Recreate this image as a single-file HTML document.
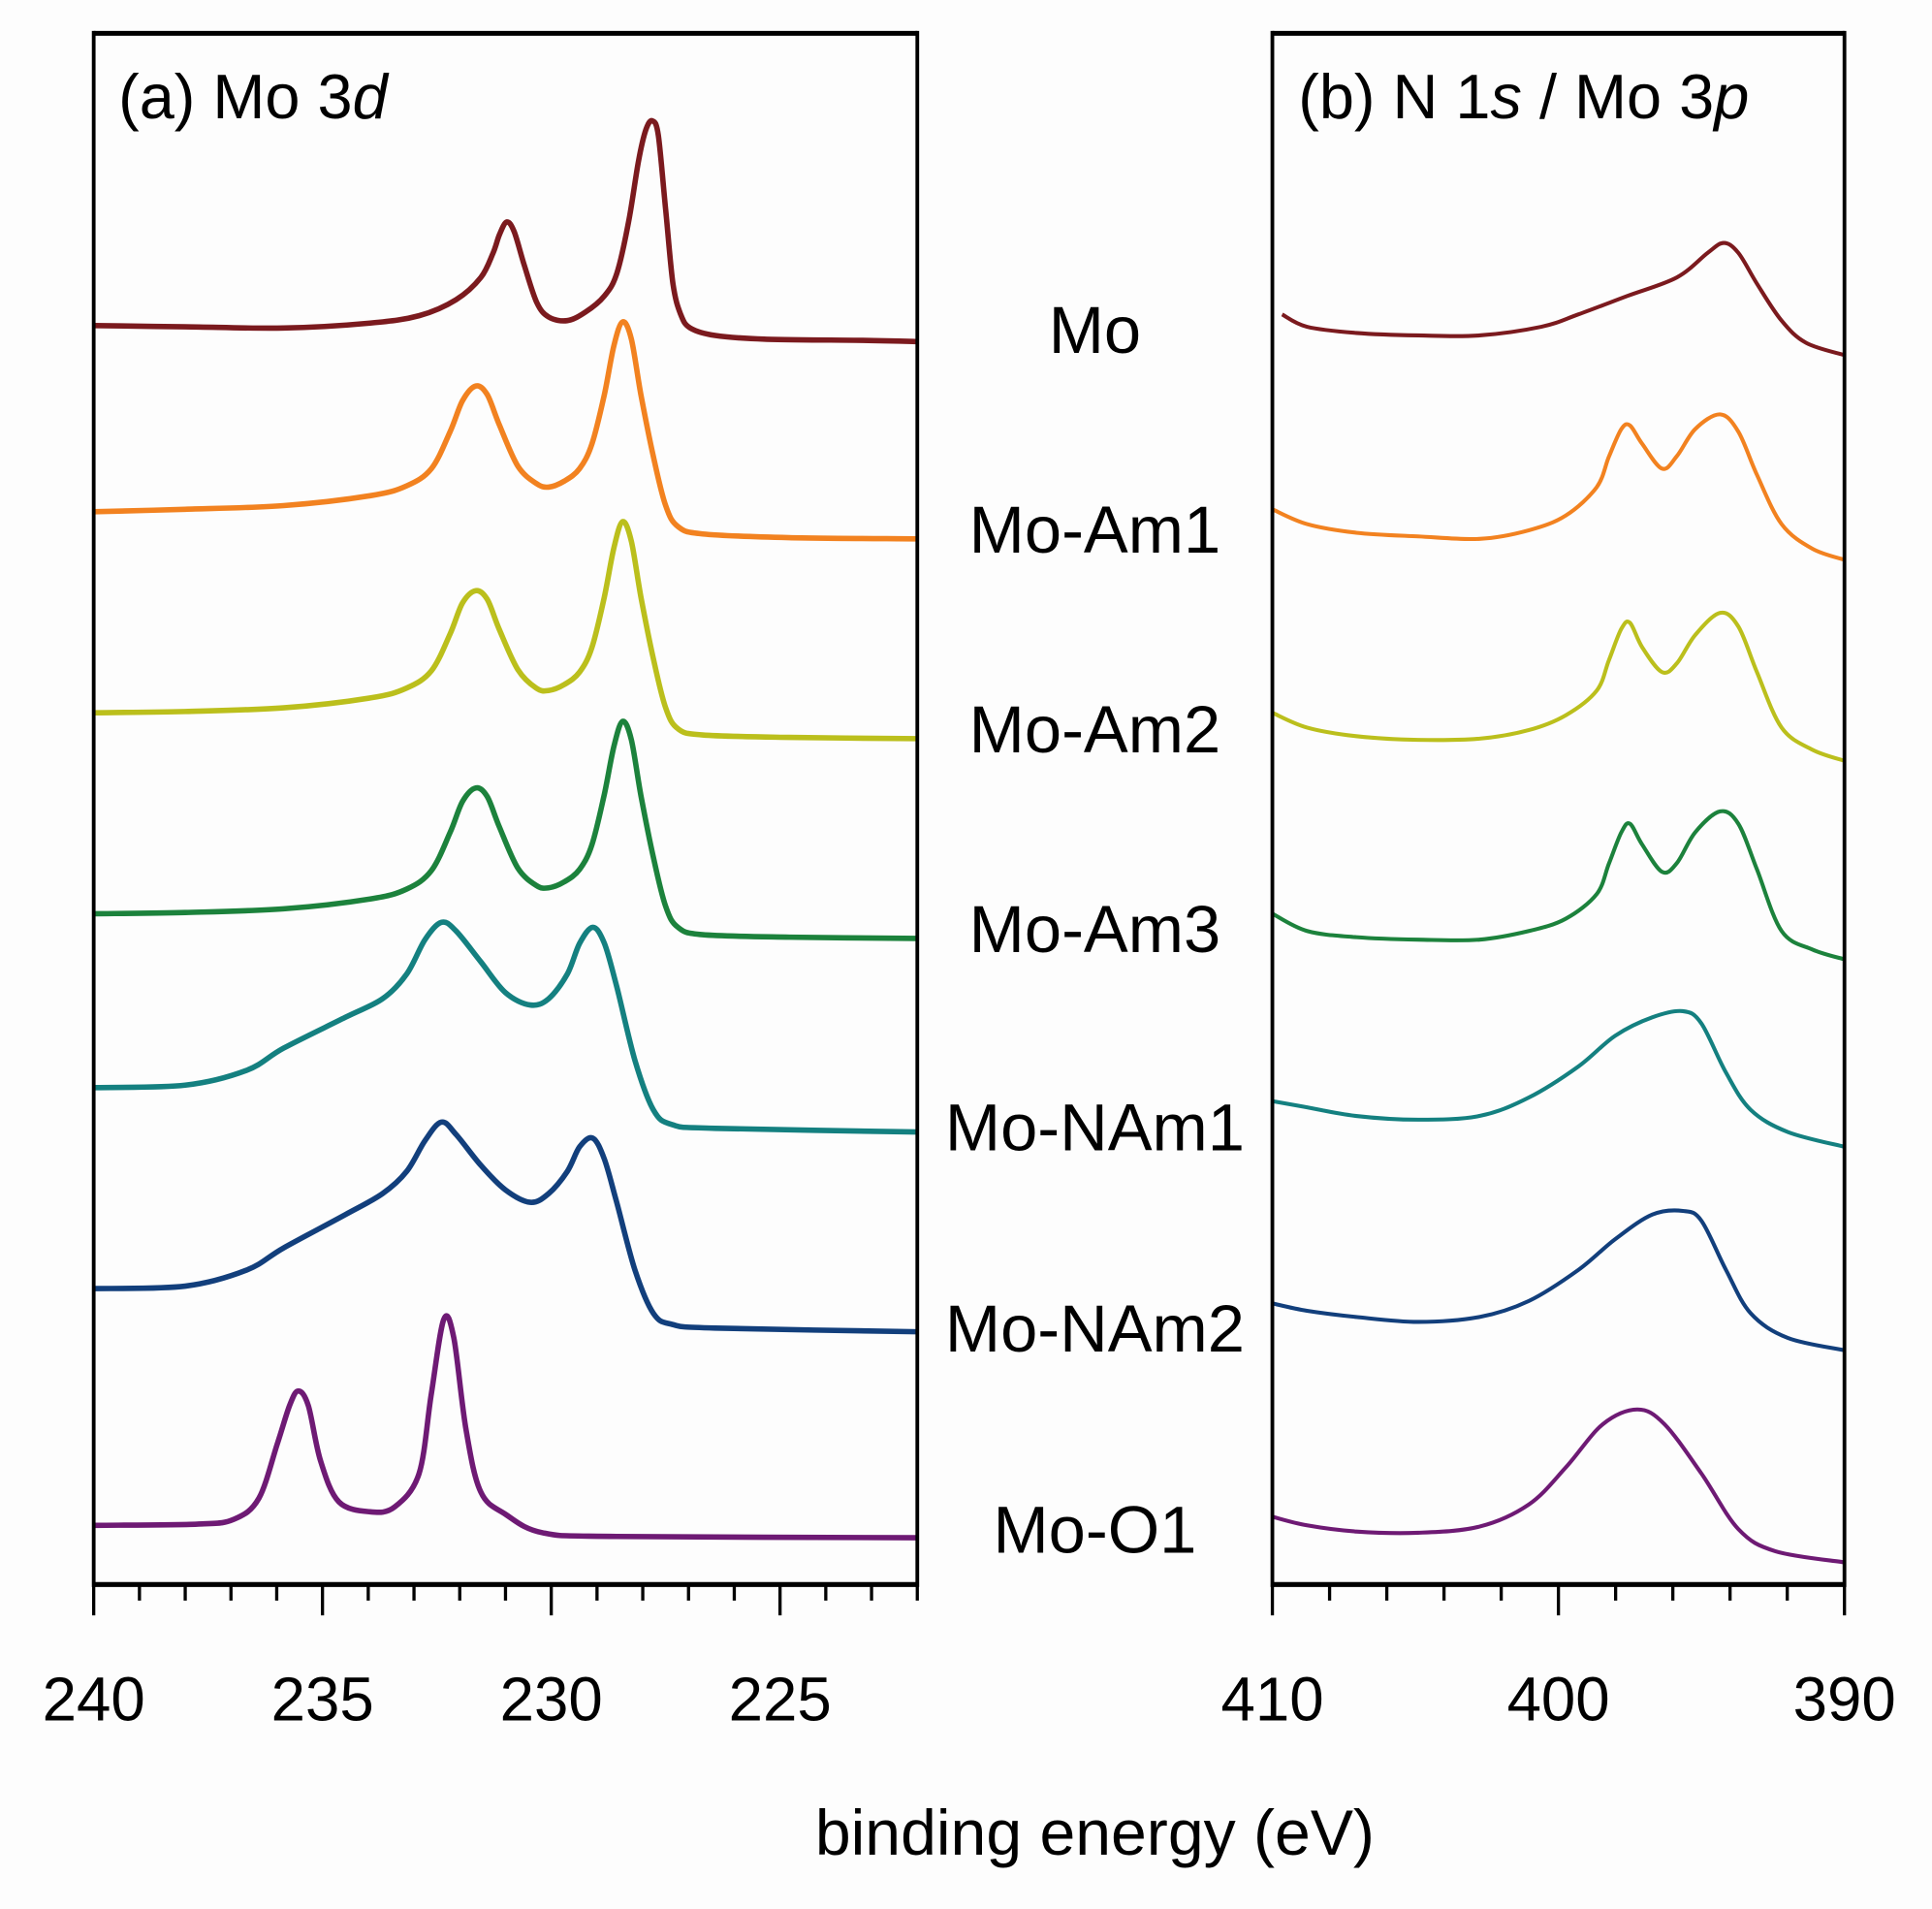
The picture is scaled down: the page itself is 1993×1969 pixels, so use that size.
<!DOCTYPE html>
<html><head><meta charset="utf-8">
<style>
html,body{margin:0;padding:0;background:#fff;}
svg{display:block;}
text{font-family:"Liberation Sans",sans-serif;fill:#000;}
</style></head>
<body>
<svg id="chart" width="1993" height="1969" viewBox="0 0 1567 1548.1" xmlns="http://www.w3.org/2000/svg">
<rect x="0" y="0" width="1570" height="1550" fill="#fdfdfd"/>
<g id="plotA"></g>
<g id="plotB"></g>
<g id="frames"></g>
<text x="96" y="96" font-size="51">(a) Mo 3<tspan font-style="italic">d</tspan></text>
<text x="1053" y="96" font-size="51">(b) N 1<tspan font-style="italic">s</tspan> / Mo 3<tspan font-style="italic">p</tspan></text>
<g font-size="54" text-anchor="middle">
<text x="888" y="286">Mo</text>
<text x="888" y="448">Mo-Am1</text>
<text x="888" y="610">Mo-Am2</text>
<text x="888" y="772">Mo-Am3</text>
<text x="888" y="933">Mo-NAm1</text>
<text x="888" y="1096">Mo-NAm2</text>
<text x="888" y="1259">Mo-O1</text>
</g>
<text x="888" y="1504" font-size="52" text-anchor="middle">binding energy (eV)</text>
</svg>
<script>
// ---- Panel (a) Mo 3d data ----
const eA_Mo=[240,238.0,235.85,233.96,232.89,232.08,231.54,231.27,231.13,230.97,230.81,230.59,230.32,230.06,229.65,229.25,228.84,228.57,228.31,228.09,227.93,227.79,227.66,227.50,227.34,227.17,226.96,226.42,225.34,223.19,222];
const vA_Mo=[13,12,11,15,21,34,52,72,87,97,89,62,32,20,17,24,37,55,97,147,172,179,167,107,47,22,11,5,2,1,0];
const eA_Am=[240,238.0,235.85,233.96,233.16,232.62,232.21,231.94,231.65,231.40,231.13,230.73,230.33,230.06,229.71,229.38,229.11,228.84,228.63,228.44,228.25,228.04,227.77,227.50,227.23,226.69,224.80,222];
const vA_Am1=[22,24,27,35,43,57,87,112,124,117,92,59,45,42,47,57,77,117,157,176,162,117,67,27,10,4,1,0];
const vA_Am2=[21,22,25,33,41,55,85,110,120,113,88,56,41,39,44,54,74,115,155,176,160,115,65,25,8,3,1,0];
const vA_Am3=[20,21,24,32,40,55,86,111,122,115,90,57,43,41,46,56,76,117,156,176,161,116,66,26,9,3,1,0];
const eA_NAm=[240,238.0,236.66,235.85,234.50,233.69,233.16,232.76,232.40,232.08,231.54,231.0,230.46,230.06,229.65,229.38,229.09,228.84,228.57,228.17,227.77,227.36,226.42,222];
const vA_NAm1=[36,38,50,68,93,108,128,156,170,163,138,113,103,108,128,153,166,153,118,58,18,6,3,0];
const vA_NAm2=[35,37,50,68,95,112,130,155,170,160,135,115,105,112,130,150,157,140,105,50,15,6,3,0];
const eA_O1=[240,237.74,236.93,236.39,235.98,235.72,235.53,235.31,235.04,234.64,233.96,233.42,232.89,232.62,232.35,232.13,231.86,231.54,231.0,230.19,228.57,222];
const vA_O1=[10,11,15,32,77,107,119,107,62,29,21,25,52,117,177,162,87,37,19,4,1,0];
// ---- Panel (b) N 1s / Mo 3p data ----
const eB_Mo=[409.66,408.79,407.07,404.91,402.76,400.60,399.31,397.59,395.86,394.78,394.22,393.71,393.06,392.20,391.34,390];
const vB_Mo=[33,23,18,16,16,23,33,48,63,83,91,83,58,28,10,0];
const eB_Am=[410,408.79,407.07,404.91,402.76,401.03,399.74,398.66,398.23,397.80,397.50,397.07,396.38,395.86,395.22,394.35,393.71,393.06,392.20,391.12,390];
const vB_Am1=[41,29,22,19,17,24,36,59,84,106,109,94,74,84,106,118,104,69,29,9,0];
const vB_Am2=[39,27,20,17,18,25,37,57,82,107,112,92,72,79,102,120,109,72,27,9,0];
const vB_Am3=[37,23,18,16,16,23,33,53,78,103,110,93,71,78,103,120,110,73,23,8,0];
const eB_NAm=[410,408.79,407.07,404.91,402.76,401.03,399.31,398.02,396.72,395.65,395.0,394.14,393.28,391.98,390];
const vB_NAm1=[37,32,25,22,25,40,65,90,105,110,100,60,30,12,0];
const vB_NAm2=[38,32,27,23,27,40,65,90,110,113,105,65,30,10,0];
const eB_O1=[410,408.79,407.07,404.91,402.76,401.03,399.74,398.45,397.24,396.29,395.0,393.71,392.41,390];
const vB_O1=[37,30,25,24,29,47,77,112,124,112,72,27,9,0];
// stacking offsets (baseline level per sample)
const names=["mo","mo-am1","mo-am2","mo-am3","mo-nam1","mo-nam2","mo-o1"];
const colors=["#7b1a1e","#f28220","#bbbf1c","#1c823c","#148080","#123f7c","#6e1a74"];
const offA=[277,437,599,761,918,1080,1247];
const offB=[288,454,617,778,930,1095,1267];
const ticksA=[240,235,230,225];
const ticksB=[410,400,390];

const NS="http://www.w3.org/2000/svg";
const xA=e=>76+(240-e)*(668/18);
const xB=e=>1032+(410-e)*(464/20);
const yv=(v,off)=>off-v;
function pathD(pts){
  let d="M"+pts[0][0].toFixed(1)+","+pts[0][1].toFixed(1);
  for(let i=0;i<pts.length-1;i++){
    const p0=pts[Math.max(0,i-1)],p1=pts[i],p2=pts[i+1],p3=pts[Math.min(pts.length-1,i+2)];
    const c1x=p1[0]+(p2[0]-p0[0])/6,c1y=p1[1]+(p2[1]-p0[1])/6;
    const c2x=p2[0]-(p3[0]-p1[0])/6,c2y=p2[1]-(p3[1]-p1[1])/6;
    d+=" C"+c1x.toFixed(1)+","+c1y.toFixed(1)+" "+c2x.toFixed(1)+","+c2y.toFixed(1)+" "+p2[0].toFixed(1)+","+p2[1].toFixed(1);
  }
  return d;
}
function draw(g,xf,E,V,off,color,name,w){
  const pts=E.map((e,i)=>[xf(e),yv(V[i],off)]);
  const p=document.createElementNS(NS,"path");
  p.setAttribute("d",pathD(pts));
  p.setAttribute("fill","none");
  p.setAttribute("stroke",color);
  p.setAttribute("stroke-width",w);
  p.setAttribute("stroke-linejoin","round");
  
  
  g.appendChild(p);
}
const gA=document.getElementById("plotA"),gB=document.getElementById("plotB");
const seriesA=[[eA_Mo,vA_Mo],[eA_Am,vA_Am1],[eA_Am,vA_Am2],[eA_Am,vA_Am3],[eA_NAm,vA_NAm1],[eA_NAm,vA_NAm2],[eA_O1,vA_O1]];
const seriesB=[[eB_Mo,vB_Mo],[eB_Am,vB_Am1],[eB_Am,vB_Am2],[eB_Am,vB_Am3],[eB_NAm,vB_NAm1],[eB_NAm,vB_NAm2],[eB_O1,vB_O1]];
seriesA.forEach((s,i)=>draw(gA,xA,s[0],s[1],offA[i],colors[i],"mo3d-line-"+names[i],4.4));
seriesB.forEach((s,i)=>draw(gB,xB,s[0],s[1],offB[i],colors[i],"n1s-line-"+names[i],3.2));

// frames & ticks
const fr=document.getElementById("frames");
function line(x1,y1,x2,y2,w,name){
  const l=document.createElementNS(NS,"line");
  l.setAttribute("x1",x1);l.setAttribute("y1",y1);l.setAttribute("x2",x2);l.setAttribute("y2",y2);
  l.setAttribute("stroke","#000");l.setAttribute("stroke-width",w);
  
  
  fr.appendChild(l);
}
function frame(x0,x1,p){
  line(x0,27,x1,27,4,p+"-frame-top");
  line(x0,1285,x1,1285,4,p+"-frame-bottom");
  line(x0,25,x0,1287,3,p+"-frame-left");
  line(x1,25,x1,1287,3,p+"-frame-right");
}
frame(76,744,"panel-a");frame(1032,1496,"panel-b");
for(let e=240;e>=222;e--){const major=ticksA.includes(e)||e===240;line(xA(e),1285,xA(e),major?1310:1298,2.6,major?"x-tick-major":"x-tick-minor");}
for(let e=410;e>=390;e-=2){const major=ticksB.includes(e);line(xB(e),1285,xB(e),major?1310:1298,2.6,major?"x-tick-major":"x-tick-minor");}
const svg=document.getElementById("chart");
function tickLabel(x,t,name){
  const tx=document.createElementNS(NS,"text");
  tx.setAttribute("x",x);tx.setAttribute("y",1395);tx.setAttribute("font-size","50");
  tx.setAttribute("text-anchor","middle");tx.textContent=t;
  
  
  svg.appendChild(tx);
}
ticksA.forEach(t=>tickLabel(xA(t),t,"x-tick-label-a"));
ticksB.forEach(t=>tickLabel(xB(t),t,"x-tick-label-b"));
</script>
</body></html>
